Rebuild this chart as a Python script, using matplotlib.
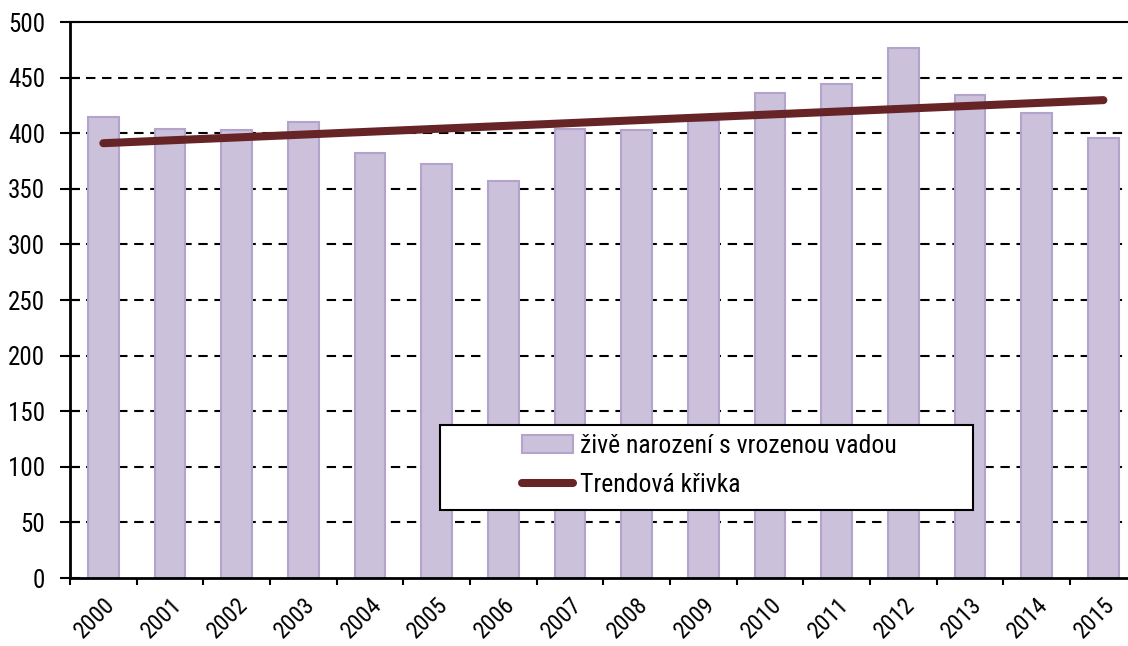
import numpy as np
import matplotlib
matplotlib.use('Agg')
import matplotlib.pyplot as plt
from matplotlib.patches import Rectangle, Patch
from matplotlib.lines import Line2D

plt.rcParams['font.family'] = ['Roboto Condensed', 'Archivo Narrow', 'DejaVu Sans']

years = ['2000', '2001', '2002', '2003', '2004', '2005', '2006', '2007',
         '2008', '2009', '2010', '2011', '2012', '2013', '2014', '2015']
births = [415, 404, 403, 410, 382, 372, 357, 404,
          403, 411, 436, 444, 477, 434, 418, 396]
bar_label = 'živě narození s vrozenou vadou'
trend_label = 'Trendová křivka'
y_ticks = [0, 50, 100, 150, 200, 250, 300, 350, 400, 450, 500]

x = np.arange(len(years))
# linear trend through the yearly values
k, q = np.polyfit(x, births, 1)
trend = k * x + q

fig = plt.figure(figsize=(11.28, 6.46), dpi=100)
ax = fig.add_axes([70 / 1128, 68 / 646, 1066.7 / 1128, 556 / 646])

bar_fc = '#cbc1db'
bar_ec = '#b4a3cc'
line_c = '#672426'

ax.bar(x, births, width=0.46, color=bar_fc, edgecolor=bar_ec, linewidth=1.5, zorder=2)
ax.plot(x, trend, color=line_c, linewidth=5.8, solid_capstyle='round', zorder=3)

ax.set_xlim(-0.5, len(years) - 0.5)
ax.set_ylim(0, 500)

ax.set_yticks(y_ticks)
for v in y_ticks[1:-1]:
    ax.axhline(v, color='black', linewidth=1.5, linestyle=(0, (4.5, 3.2)), zorder=1)

ax.set_xticks(x)
ax.set_xticklabels(years, rotation=45, ha='right', va='top', rotation_mode='anchor')
ax.set_xticks(np.arange(len(years) + 1) - 0.5, minor=True)
ax.tick_params(axis='x', which='major', length=0, pad=11, labelsize=17)
ax.tick_params(axis='x', which='minor', length=5, width=1.5, direction='out')
ax.tick_params(axis='y', length=14, width=1.5, direction='inout', pad=11, labelsize=18)

ax.spines['right'].set_visible(False)
for s in ['left', 'bottom', 'top']:
    ax.spines[s].set_linewidth(2)
    ax.spines[s].set_color('black')
ax.spines['top'].set_linewidth(1.5)

# legend box
box = Rectangle((440 / 1128, 1 - 510 / 646), 533 / 1128, 85 / 646,
                transform=fig.transFigure, facecolor='white', edgecolor='black',
                linewidth=1.5, zorder=5)
fig.add_artist(box)
handles = [Patch(facecolor=bar_fc, edgecolor=bar_ec, linewidth=1.5),
           Line2D([0], [0], color=line_c, linewidth=5.8, solid_capstyle='round')]
leg = fig.legend(handles, [bar_label, trend_label], loc='upper left',
                 bbox_to_anchor=(522 / 1128, 1 - 434 / 646), frameon=False,
                 fontsize=18.5, handlelength=2.0, handletextpad=0.25,
                 labelspacing=0.6, borderpad=0, borderaxespad=0)
leg.set_zorder(6)

fig.savefig('out.png', dpi=100)
